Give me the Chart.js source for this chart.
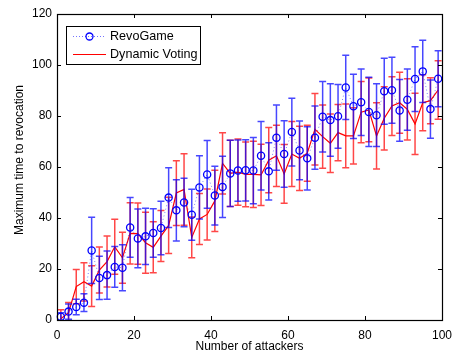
<!DOCTYPE html>
<html>
<head>
<meta charset="utf-8">
<script src="https://cdn.jsdelivr.net/npm/chart.js@4/dist/chart.umd.min.js"></script>
<style>
  html, body { margin: 0; padding: 0; background: #fff; }
  #wrap { width: 460px; height: 356px; }
</style>
</head>
<body>
<div id="wrap"><canvas id="c" width="460" height="356"></canvas></div>
<script>
// Number of attackers
const attackers = [1, 3, 5, 7, 9, 11, 13, 15, 17, 19, 21, 23, 25, 27, 29, 31, 33, 35, 37, 39,
  41, 43, 45, 47, 49, 51, 53, 55, 57, 59, 61, 63, 65, 67, 69, 71, 73, 75, 77, 79,
  81, 83, 85, 87, 89, 91, 93, 95, 97, 99];

// RevoGame: mean and error of the maximum time to revocation
const revoMean = [1.3, 3.3, 5.1, 6.8, 27.3, 16.5, 17.6, 20.8, 20.5, 36.3,
  32, 32.8, 34.1, 36.1, 48, 43, 46.1, 41.3, 52, 57.1,
  48.8, 52.2, 57.5, 58.6, 58.7, 58.6, 64.4, 58.3, 71.5, 65.1,
  73.7, 66.5, 63.4, 71.5, 79.7, 78.4, 79.9, 91.2, 83.8, 85.4,
  81.6, 80.3, 89.7, 90.1, 82.2, 86.4, 94.5, 97.5, 82.7, 94.6];
const revoErr = [1.5, 3, 3, 3.5, 13, 8.5, 9.5, 8, 9, 11.7,
  11.5, 11, 9.5, 10.5, 11.7, 12, 9.5, 10, 12.4, 13.3,
  11.5, 12, 13, 12, 12, 13, 13.4, 11.2, 12.8, 13,
  13.3, 11.5, 12.4, 12.4, 13.8, 14.2, 12.5, 12.6, 12.6, 13,
  13.6, 12.3, 12.9, 12.9, 12.1, 12, 12.7, 12.2, 11.4, 11];

// Dynamic Voting: mean and error
const voteMean = [0.5, 2.9, 13.1, 15, 13.3, 19.6, 22.9, 28.7, 24.4, 34,
  33.9, 30.3, 28.5, 32.9, 37.1, 49.8, 51.2, 32.4, 39.6, 41.4,
  46.7, 61.4, 57.5, 58, 57.1, 57.1, 56.9, 62.7, 64.4, 57.3,
  65.1, 63.4, 65.4, 74.8, 71.9, 69.3, 73.5, 72.2, 72.2, 81.5,
  82.4, 72.2, 79.1, 83.9, 85.2, 82.6, 76.9, 85.2, 86, 90.2];
const voteErr = [3.5, 4, 6.7, 7.5, 8, 9, 10, 10.8, 10, 12,
  12, 12, 10, 10, 11, 12.7, 14, 8, 10, 10,
  12, 12, 13, 13, 12.7, 13, 12, 12.8, 12, 11.5,
  12.7, 12.6, 11, 14, 12.4, 11.5, 11, 12.5, 11, 12,
  12.5, 13, 12.4, 11.5, 12, 12, 12, 11, 9, 11.5];

const xTicks = [0, 20, 40, 60, 80, 100];
const yTicks = [0, 20, 40, 60, 80, 100, 120];

const seriesNames = ['RevoGame', 'Dynamic Voting'];
const yTitle = 'Maximum time to revocation';

const FONT = '"Liberation Sans", Arial, Helvetica, sans-serif';
Chart.defaults.font.family = FONT;
Chart.defaults.font.size = 12;
Chart.defaults.color = '#000';

const toPoints = (xs, ys) => xs.map((x, i) => ({ x: x, y: ys[i] }));

// Vertical error bars with caps, drawn just before each dataset
const errorBars = {
  id: 'errorBars',
  beforeDatasetDraw(chart, args) {
    const ds = chart.data.datasets[args.index];
    if (!ds.errors) return;
    const { ctx, chartArea: a } = chart;
    const xs = chart.scales.x, ys = chart.scales.y;
    ctx.save();
    ctx.beginPath();
    ctx.rect(a.left, a.top, a.right - a.left, a.bottom - a.top);
    ctx.clip();
    ctx.strokeStyle = ds.errorColor;
    ctx.lineWidth = 1.5;
    const cap = 3.5;
    ds.data.forEach((p, i) => {
      const e = ds.errors[i];
      const px = xs.getPixelForValue(p.x);
      const top = ys.getPixelForValue(p.y + e);
      const bot = ys.getPixelForValue(p.y - e);
      ctx.beginPath();
      ctx.moveTo(px, top); ctx.lineTo(px, bot);
      ctx.moveTo(px - cap, top); ctx.lineTo(px + cap, top);
      ctx.moveTo(px - cap, bot); ctx.lineTo(px + cap, bot);
      ctx.stroke();
    });
    ctx.restore();
  }
};

// Boxed axes with inward tick marks on all four sides, plus the y-axis title
const axesBox = {
  id: 'axesBox',
  afterDraw(chart) {
    const { ctx, chartArea: a } = chart;
    const xs = chart.scales.x, ys = chart.scales.y;
    const len = 4;
    ctx.save();
    ctx.strokeStyle = '#000';
    ctx.lineWidth = 1;
    ctx.beginPath();
    xTicks.forEach(v => {
      const px = Math.round(xs.getPixelForValue(v)) + 0.5;
      ctx.moveTo(px, a.bottom); ctx.lineTo(px, a.bottom - len);
      ctx.moveTo(px, a.top); ctx.lineTo(px, a.top + len);
    });
    yTicks.forEach(v => {
      const py = Math.round(ys.getPixelForValue(v)) + 0.5;
      ctx.moveTo(a.left, py); ctx.lineTo(a.left + len, py);
      ctx.moveTo(a.right, py); ctx.lineTo(a.right - len, py);
    });
    ctx.stroke();
    ctx.lineWidth = 1.2;
    ctx.strokeRect(Math.round(a.left) + 0.5, Math.round(a.top) + 0.5,
      Math.round(a.right - a.left), Math.round(a.bottom - a.top));

    ctx.translate(20, (a.top + a.bottom) / 2 - 7);
    ctx.rotate(-Math.PI / 2);
    ctx.fillStyle = '#000';
    ctx.font = '12px ' + FONT;
    ctx.textAlign = 'center';
    ctx.textBaseline = 'middle';
    ctx.fillText(yTitle, 0, 0);
    ctx.restore();
  }
};

// Legend box in the upper-left corner of the plot
const legendBox = {
  id: 'legendBox',
  afterDraw(chart) {
    const { ctx } = chart;
    const bx = 66.5, by = 26.5, bw = 134, bh = 38;
    ctx.save();
    ctx.fillStyle = '#fff';
    ctx.fillRect(bx, by, bw, bh);
    ctx.strokeStyle = '#000';
    ctx.lineWidth = 1;
    ctx.strokeRect(bx, by, bw, bh);

    const y1 = 36.5, y2 = 54.5;
    // RevoGame sample
    ctx.strokeStyle = 'rgba(0,0,255,0.55)';
    ctx.setLineDash([1, 2]);
    ctx.beginPath(); ctx.moveTo(73, y1); ctx.lineTo(106, y1); ctx.stroke();
    ctx.setLineDash([]);
    ctx.strokeStyle = '#0000ff';
    ctx.lineWidth = 1.3;
    ctx.beginPath(); ctx.arc(89.5, y1, 3.5, 0, Math.PI * 2); ctx.stroke();
    // Dynamic Voting sample
    ctx.strokeStyle = '#ff0000';
    ctx.lineWidth = 1.2;
    ctx.beginPath(); ctx.moveTo(73, y2); ctx.lineTo(106, y2); ctx.stroke();

    ctx.fillStyle = '#000';
    ctx.font = '12.6px ' + FONT;
    ctx.textBaseline = 'middle';
    ctx.textAlign = 'left';
    ctx.fillText(seriesNames[0], 110, y1);
    ctx.fillText(seriesNames[1], 110, y2);
    ctx.restore();
  }
};

new Chart(document.getElementById('c'), {
  type: 'line',
  data: {
    datasets: [
      {
        label: seriesNames[0],
        data: toPoints(attackers, revoMean),
        errors: revoErr,
        errorColor: 'rgba(0,0,255,0.72)',
        borderColor: 'rgba(0,0,255,0.5)',
        borderWidth: 1,
        borderDash: [1, 2.5],
        pointRadius: 3.6,
        pointBorderWidth: 1.3,
        pointBorderColor: '#0000ff',
        pointBackgroundColor: 'rgba(0,0,0,0)',
        tension: 0
      },
      {
        label: seriesNames[1],
        data: toPoints(attackers, voteMean),
        errors: voteErr,
        errorColor: 'rgba(255,0,0,0.72)',
        borderColor: '#ff0000',
        borderWidth: 1.2,
        pointRadius: 0,
        tension: 0
      }
    ]
  },
  options: {
    responsive: false,
    animation: false,
    devicePixelRatio: 1,
    clip: false,
    layout: { padding: { top: 14, right: 12, left: 0, bottom: 0 } },
    plugins: {
      legend: { display: false },
      tooltip: { enabled: false }
    },
    scales: {
      x: {
        type: 'linear',
        min: 0, max: 100,
        afterBuildTicks(scale) { scale.ticks = xTicks.map(v => ({ value: v })); },
        afterFit(scale) { scale.height = 36; },
        ticks: { padding: 8, maxRotation: 0, autoSkip: false, color: '#000' },
        grid: { display: false, drawTicks: false },
        border: { display: false },
        title: { display: true, text: 'Number of attackers', color: '#000', padding: { top: 0, bottom: 2 } }
      },
      y: {
        type: 'linear',
        min: 0, max: 120,
        afterBuildTicks(scale) { scale.ticks = yTicks.map(v => ({ value: v })); },
        afterFit(scale) { scale.width = 57; },
        ticks: { padding: 5, autoSkip: false, color: '#000' },
        grid: { display: false, drawTicks: false },
        border: { display: false },
        title: { display: false }
      }
    }
  },
  plugins: [errorBars, axesBox, legendBox]
});
</script>
</body>
</html>
